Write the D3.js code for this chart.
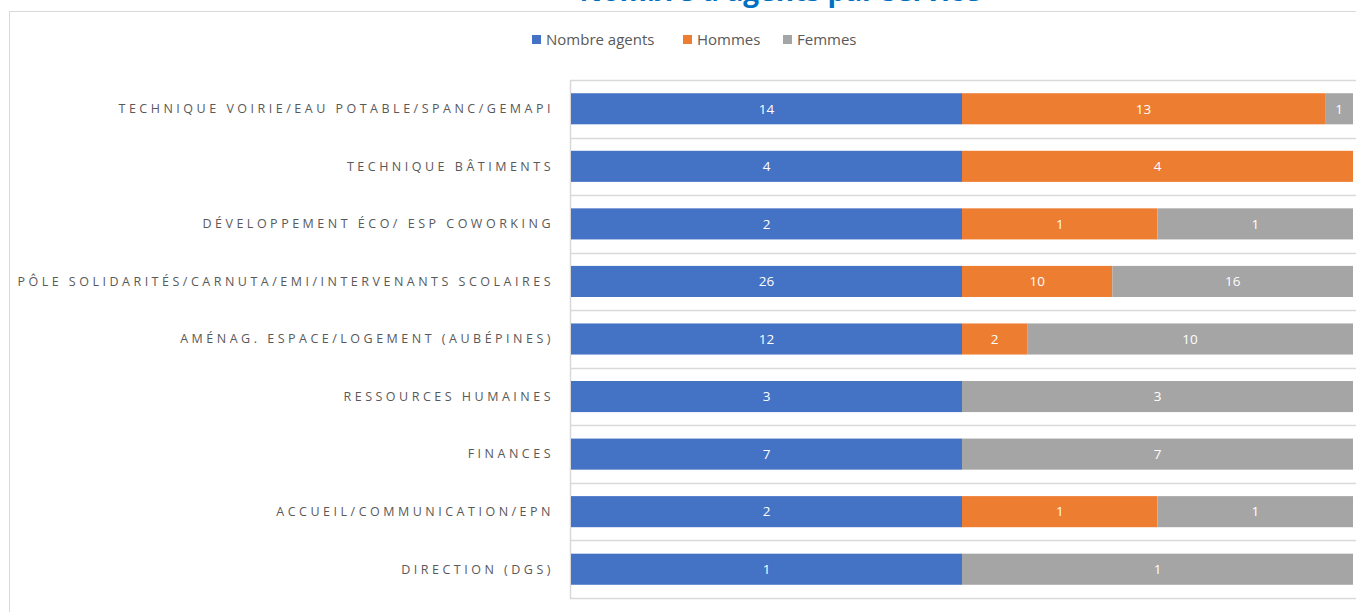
<!DOCTYPE html>
<html>
<head>
<meta charset="utf-8">
<script src="https://cdn.jsdelivr.net/npm/d3@7"></script>
<style>
  body { margin: 0; background: #fff; }
  text { font-family: "Open Sans", "Noto Sans", sans-serif; }
</style>
</head>
<body>
<div id="chart"></div>
<script>
var categories = [
  "TECHNIQUE VOIRIE/EAU POTABLE/SPANC/GEMAPI",
  "TECHNIQUE BÂTIMENTS",
  "DÉVELOPPEMENT ÉCO/ ESP COWORKING",
  "PÔLE SOLIDARITÉS/CARNUTA/EMI/INTERVENANTS SCOLAIRES",
  "AMÉNAG. ESPACE/LOGEMENT (AUBÉPINES)",
  "RESSOURCES HUMAINES",
  "FINANCES",
  "ACCUEIL/COMMUNICATION/EPN",
  "DIRECTION (DGS)"
];
var agents = [14, 4, 2, 26, 12, 3, 7, 2, 1];
var hommes = [13, 4, 1, 10, 2, 0, 0, 1, 0];
var femmes = [1, 0, 1, 16, 10, 3, 7, 1, 1];
var seriesNames = ["Nombre agents", "Hommes", "Femmes"];
var colors = ["#4472C4", "#ED7D31", "#A5A5A5"];

var W = 1356, H = 612;
var svg = d3.select("#chart").append("svg")
    .attr("width", W).attr("height", H);

// chart frame (partly outside the window)
svg.append("rect")
    .attr("x", 9.5).attr("y", 11.5)
    .attr("width", 1400).attr("height", 700)
    .attr("fill", "#fff").attr("stroke", "#d9d9d9");

// title, mostly cut off above
svg.append("text")
    .attr("x", 780).attr("y", 1)
    .attr("text-anchor", "middle")
    .attr("font-size", 28).attr("font-weight", "bold")
    .attr("fill", "#0070C0")
    .text("Nombre d'agents par service");

var rows = categories.map(function(c, i) {
  return { cat: c, a: agents[i], h: hommes[i], f: femmes[i] };
});
var stack = d3.stack().keys(["a", "h", "f"]).offset(d3.stackOffsetExpand);
var stacked = stack(rows);

var x = d3.scaleLinear().domain([0, 1]).range([571, 1353]);
var y = d3.scaleBand().domain(categories).range([80, 598]).paddingInner(0.46).paddingOuter(0.23);

// band separators
var edges = d3.range(categories.length + 1).map(function(i) { return 80 + i * (518 / categories.length); });
svg.append("g").selectAll("line").data(edges).join("line")
    .attr("x1", 570).attr("x2", 1356)
    .attr("y1", function(d) { return Math.round(d) + 0.5; })
    .attr("y2", function(d) { return Math.round(d) + 0.5; })
    .attr("stroke", "#d9d9d9").attr("stroke-width", 1.5);

svg.append("line")
    .attr("x1", 570.5).attr("x2", 570.5).attr("y1", 80).attr("y2", 599)
    .attr("stroke", "#d9d9d9").attr("stroke-width", 1.5);

var groups = svg.append("g").selectAll("g").data(stacked).join("g")
    .attr("fill", function(d, i) { return colors[i]; });

groups.selectAll("rect").data(function(d) { return d; }).join("rect")
    .attr("x", function(d) { return x(d[0]); })
    .attr("width", function(d) { return x(d[1]) - x(d[0]); })
    .attr("y", function(d) { return y(d.data.cat); })
    .attr("height", y.bandwidth());

groups.each(function(s) {
  d3.select(this).selectAll("text").data(s.filter(function(d) { return d.data[s.key] > 0; })).join("text")
    .attr("x", function(d) { return (x(d[0]) + x(d[1])) / 2; })
    .attr("y", function(d) { return y(d.data.cat) + y.bandwidth() / 2; })
    .attr("dy", "0.35em")
    .attr("text-anchor", "middle")
    .attr("font-size", 13.5)
    .attr("fill", "#fff")
    .text(function(d) { return d.data[s.key]; });
});

// category labels
svg.append("g").selectAll("text").data(categories).join("text")
    .attr("x", 554)
    .attr("y", function(d) { return y(d) + y.bandwidth() / 2; })
    .attr("dy", "0.35em")
    .attr("text-anchor", "end")
    .attr("font-size", 12.5)
    .attr("letter-spacing", "3.5px")
    .attr("fill", "#595959")
    .text(function(d) { return d; });

// legend
var legX = [532, 683, 783];
var leg = svg.append("g").selectAll("g").data(seriesNames).join("g")
    .attr("transform", function(d, i) { return "translate(" + legX[i] + ",40)"; });
leg.append("rect").attr("x", 0).attr("y", -5).attr("width", 9).attr("height", 9)
    .attr("fill", function(d, i) { return colors[i]; });
leg.append("text").attr("x", 14).attr("dy", "0.35em")
    .attr("font-size", 15).attr("fill", "#595959")
    .text(function(d) { return d; });
</script>
</body>
</html>
